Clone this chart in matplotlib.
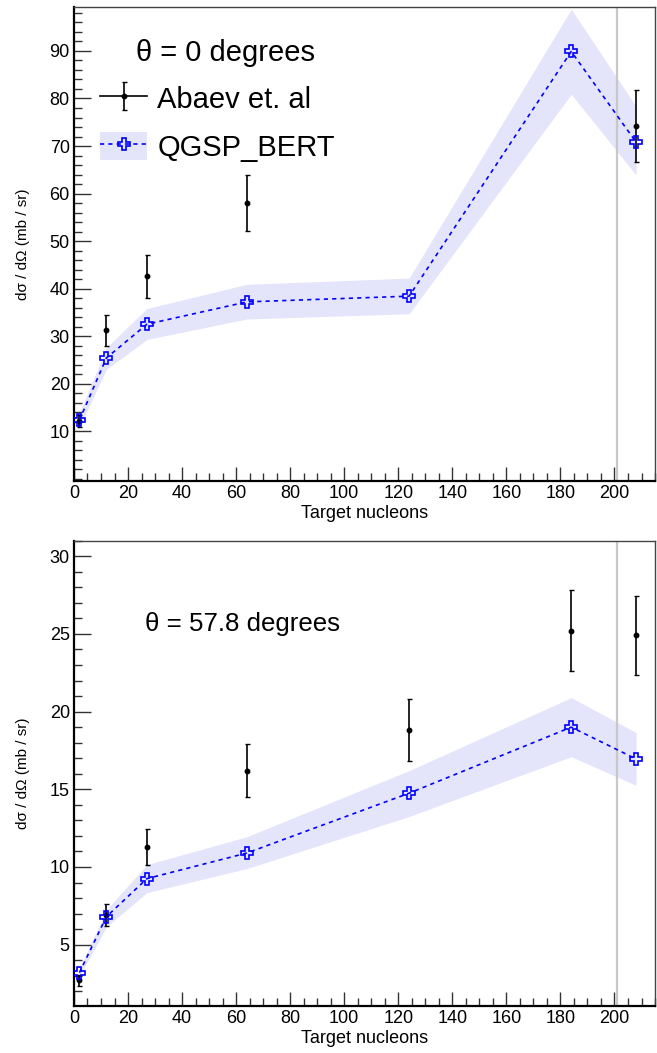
import matplotlib
matplotlib.use("Agg")
import matplotlib.pyplot as plt
from matplotlib.lines import Line2D
from matplotlib.patches import Patch
from matplotlib.container import ErrorbarContainer
from matplotlib.legend_handler import HandlerErrorbar
from matplotlib.ticker import MultipleLocator

plt.rcParams['font.family'] = ['Liberation Sans', 'DejaVu Sans']

# target nucleon numbers (d, C, Al, Cu, Sn, W, Pb)
nucleons = [2, 12, 27, 64, 124, 184, 208]

# theta = 0 degrees
abaev_a_0 = [2, 12, 27, 64, 208]
abaev_0 = [12.1, 31.2, 42.6, 58.1, 74.2]
abaev_err_0 = [1.2, 3.3, 4.5, 5.9, 7.6]
qgsp_0 = [12.3, 25.4, 32.5, 37.2, 38.4, 89.9, 70.8]
qgsp_lo_0 = [10.9, 23.0, 29.3, 33.6, 34.7, 80.9, 63.9]
qgsp_hi_0 = [13.8, 27.6, 35.8, 40.9, 42.2, 98.8, 78.3]

# theta = 57.8 degrees
abaev_a_57 = [2, 12, 27, 64, 124, 184, 208]
abaev_57 = [2.7, 6.9, 11.3, 16.2, 18.8, 25.2, 24.9]
abaev_err_57 = [0.35, 0.7, 1.15, 1.7, 2.0, 2.6, 2.55]
qgsp_57 = [3.2, 6.8, 9.25, 10.9, 14.75, 19.0, 16.95]
qgsp_lo_57 = [2.95, 6.15, 8.35, 9.9, 13.25, 17.1, 15.25]
qgsp_hi_57 = [3.45, 7.25, 10.15, 11.95, 16.2, 20.9, 18.65]

band_color = '#e4e4fb'
qgsp_color = '#0000ff'


def draw_panel(ax, a_data, y_data, y_err, y_sim, y_lo, y_hi):
    ax.fill_between(nucleons, y_lo, y_hi, color=band_color, lw=0, zorder=1)
    ax.axvline(201, color='#c8c8c8', lw=1.6, zorder=2)
    eb = ax.errorbar(a_data, y_data, yerr=y_err, fmt='o', color='black',
                     ms=3.2, elinewidth=1.2, capsize=1.8, capthick=1.0, zorder=3)
    ln, = ax.plot(nucleons, y_sim, color=qgsp_color, lw=1.2, dashes=(2.5, 2.5),
                  marker='P', ms=8.5, mfc='none', mec=qgsp_color, mew=1.2, zorder=4)
    ax.set_xlim(0, 215)
    ax.xaxis.set_major_locator(MultipleLocator(20))
    ax.xaxis.set_minor_locator(MultipleLocator(5))
    ax.set_xlabel('Target nucleons', fontsize=13, labelpad=2)
    ax.set_ylabel('d\u03c3 / d\u03a9 (mb / sr)', fontsize=11)
    ax.yaxis.set_label_coords(-0.076, 0.5)
    ax.tick_params(axis='both', which='both', direction='in', top=False,
                   right=False, colors='#333333', labelcolor='black',
                   labelsize=13, width=1.0)
    ax.tick_params(axis='y', which='major', length=12, pad=3)
    ax.tick_params(axis='y', which='minor', length=6)
    ax.tick_params(axis='x', which='major', length=10, pad=3)
    ax.tick_params(axis='x', which='minor', length=5.5)
    for side in ['left', 'bottom']:
        ax.spines[side].set_linewidth(1.6)
        ax.spines[side].set_color('black')
    for side in ['top', 'right']:
        ax.spines[side].set_linewidth(1.0)
        ax.spines[side].set_color('#444444')
    return eb, ln


fig = plt.figure(figsize=(6.57, 10.53), dpi=100)
ax1 = fig.add_axes([0.1126, 0.5432, 0.8844, 0.4499])
ax2 = fig.add_axes([0.1126, 0.0446, 0.8844, 0.4419])

eb, ln = draw_panel(ax1, abaev_a_0, abaev_0, abaev_err_0, qgsp_0, qgsp_lo_0, qgsp_hi_0)
ax1.set_ylim(-0.5, 99.2)
ax1.yaxis.set_major_locator(MultipleLocator(10))
ax1.yaxis.set_minor_locator(MultipleLocator(2))
ax1.set_yticks(range(10, 100, 10))

ax1.text(0.2616, 0.9035, '\u03b8 = 0 degrees', transform=ax1.transAxes,
         fontsize=21, va='center', ha='center')

# legend: data with horizontal line, model with band behind
abaev_handle = (Line2D([], [], color='black', lw=1.2), eb)
qgsp_handle = (Patch(facecolor=band_color, edgecolor='none'), ln)
ax1.legend([abaev_handle, qgsp_handle], ['Abaev et. al', 'QGSP_BERT'],
           fontsize=21, loc='upper left', bbox_to_anchor=(0.045, 0.8387),
           frameon=False, borderpad=0, borderaxespad=0, handlelength=1.62,
           handleheight=1.1, handletextpad=0.34, labelspacing=0.62,
           handler_map={ErrorbarContainer: HandlerErrorbar(yerr_size=0.48)})

draw_panel(ax2, abaev_a_57, abaev_57, abaev_err_57, qgsp_57, qgsp_lo_57, qgsp_hi_57)
ax2.set_ylim(1.05, 31.0)
ax2.yaxis.set_major_locator(MultipleLocator(5))
ax2.yaxis.set_minor_locator(MultipleLocator(1))
ax2.text(0.122, 0.822, '\u03b8 = 57.8 degrees', transform=ax2.transAxes,
         fontsize=18.6, va='center', ha='left')

fig.savefig('out.png', dpi=100)
